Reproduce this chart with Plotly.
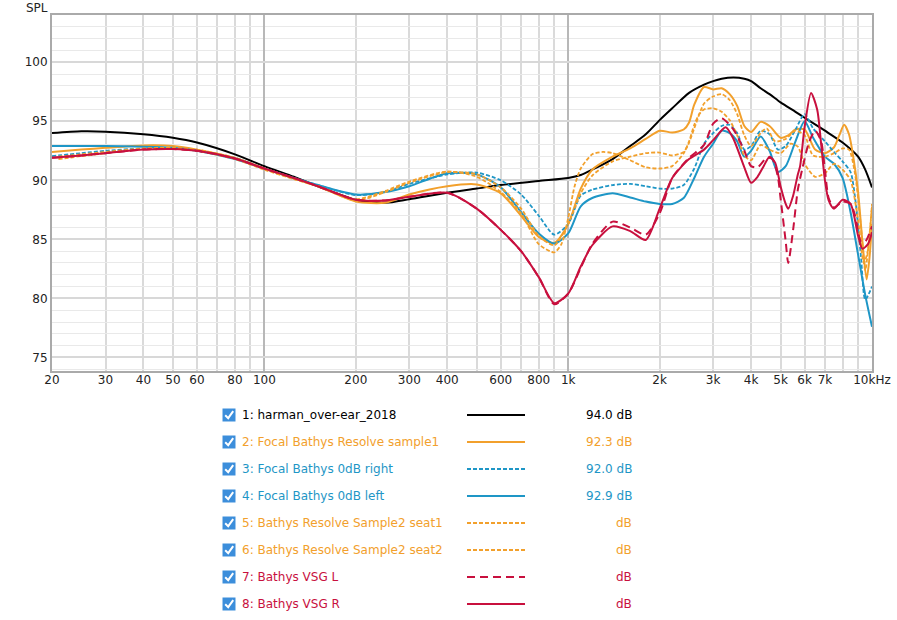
import math
import plotly.graph_objects as go

# ---------------- data (frequency in Hz, level in dB SPL) ----------------
harman_f = [20, 25, 30, 40, 50, 60, 80, 100, 125, 150, 200, 250, 300, 400, 500, 600, 800, 1000, 1100, 1200,
            1400, 1600, 1800, 2000, 2200, 2500, 2800, 3000, 3200, 3500, 3800, 4000, 4300, 4600, 5000, 5600,
            6000, 7000, 8000, 9000, 9500, 10000]
harman_db = [94.0, 94.15, 94.12, 93.9, 93.6, 93.2, 92.2, 91.2, 90.3, 89.5, 88.35, 88.1, 88.4, 88.95, 89.3, 89.6,
             89.95, 90.2, 90.45, 90.9, 91.8, 92.9, 93.9, 95.1, 96.1, 97.4, 98.1, 98.4, 98.6, 98.7, 98.6, 98.4,
             97.8, 97.3, 96.6, 95.8, 95.3, 94.2, 93.2, 92.0, 90.9, 89.4]

s1_f = [20, 25, 30, 40, 50, 60, 80, 100, 125, 150, 200, 250, 300, 400, 500, 600, 700, 800, 900, 1000, 1100,
        1200, 1400, 1600, 1800, 2000, 2200, 2400, 2500, 2600, 2800, 3000, 3200, 3400, 3600, 3800, 4000, 4300,
        4600, 5000, 5300, 5600, 6000, 6500, 7000, 7500, 7800, 8100, 8400, 8700, 9000, 9300, 9600, 9800, 10000]
s1_db = [92.4, 92.6, 92.75, 92.95, 92.9, 92.6, 91.9, 91.0, 90.15, 89.5, 88.2, 88.1, 88.8, 89.5, 89.65, 88.9,
         87.0, 85.2, 84.7, 86.3, 89.3, 90.9, 92.0, 92.7, 93.5, 94.2, 94.05, 94.3, 94.9, 96.4, 97.9, 97.7, 97.8,
         97.3, 96.3, 94.6, 94.1, 94.95, 94.6, 93.6, 93.8, 94.3, 94.3, 92.6, 92.3, 92.8, 93.8, 94.7, 93.9, 91.8,
         89.0, 84.8, 81.6, 83.3, 86.3]

r0_f = [20, 25, 30, 40, 50, 60, 80, 100, 125, 150, 200, 250, 300, 400, 500, 600, 700, 800, 900, 1000, 1100,
        1200, 1400, 1600, 1800, 2000, 2200, 2400, 2600, 2800, 3000, 3200, 3400, 3600, 3800, 4000, 4300, 4600,
        4900, 5200, 5600, 6000, 6400, 7000, 7500, 8000, 8500, 8800, 9200, 9500, 10000]
r0_db = [92.05, 92.3, 92.5, 92.7, 92.7, 92.5, 91.9, 91.0, 90.2, 89.6, 88.75, 89.0, 89.7, 90.5, 90.65, 90.0,
         88.8, 87.0, 85.4, 86.3, 88.7, 89.2, 89.6, 89.7, 89.5, 89.3, 89.3, 89.6, 91.0, 93.1, 94.0, 94.6, 94.7,
         94.0, 92.6, 92.9, 94.2, 93.9, 92.6, 92.9, 94.3, 95.6, 94.4, 93.3, 92.4, 91.6, 90.7, 88.5, 83.5, 79.9,
         81.0]

l0_f = [20, 30, 40, 50, 60, 80, 100, 125, 150, 200, 250, 300, 400, 500, 600, 700, 800, 900, 1000, 1100, 1200,
        1400, 1600, 1800, 2000, 2200, 2400, 2600, 2800, 3000, 3200, 3400, 3600, 3800, 4000, 4300, 4600, 4900,
        5200, 5600, 6000, 6400, 7000, 7500, 8000, 8500, 9000, 9500, 10000]
l0_db = [92.9, 92.9, 92.85, 92.75, 92.5, 91.8, 91.0, 90.2, 89.6, 88.8, 89.0, 89.5, 90.6, 90.5, 89.4, 87.3,
         85.5, 84.65, 85.5, 87.8, 88.5, 88.9, 88.55, 88.2, 88.0, 88.0, 88.5, 90.2, 92.0, 93.1, 94.2, 94.0, 93.3,
         92.0, 92.5, 93.7, 92.5, 90.7, 91.2, 93.3, 95.0, 93.6, 92.0, 91.4, 90.2, 87.3, 83.7, 80.3, 77.6]

seat1_f = [21, 25, 30, 40, 50, 60, 80, 100, 125, 150, 200, 250, 300, 400, 500, 600, 700, 800, 900, 950, 1000,
           1050, 1100, 1200, 1300, 1400, 1600, 1800, 2000, 2200, 2400, 2500, 2600, 2700, 2800, 3000, 3200, 3400,
           3600, 3800, 4000, 4300, 4600, 5000, 5400, 5700, 6000, 6500, 7000, 7500, 8000, 8500, 9000, 9400, 9700,
           10000]
seat1_db = [91.8, 92.05, 92.3, 92.65, 92.7, 92.5, 91.8, 90.9, 90.1, 89.5, 88.4, 89.1, 89.9, 90.75, 90.3, 89.0,
            87.2, 84.6, 83.9, 84.6, 86.8, 89.5, 91.0, 92.2, 92.4, 92.3, 91.7, 91.1, 91.0, 91.2, 92.3, 93.3, 94.7,
            95.6, 96.0, 96.1, 95.8, 95.1, 93.8, 92.1, 91.7, 93.0, 92.6, 92.3, 93.1, 92.85, 91.4, 90.3, 90.6, 91.4,
            90.9, 90.0, 86.6, 83.0, 84.1, 88.0]

seat2_f = [21, 25, 30, 40, 50, 60, 80, 100, 125, 150, 200, 250, 300, 400, 500, 600, 700, 800, 900, 1000, 1100,
           1200, 1400, 1600, 1800, 2000, 2200, 2400, 2500, 2600, 2800, 3000, 3200, 3400, 3600, 3800, 4000, 4300,
           4500, 4800, 5200, 5600, 6000, 6400, 7000, 7500, 8000, 8400, 8800, 9200, 9500, 10000]
seat2_db = [92.0, 92.2, 92.4, 92.7, 92.75, 92.6, 91.9, 91.0, 90.15, 89.5, 88.3, 89.0, 89.8, 90.7, 90.5, 89.4,
            87.6, 85.3, 84.5, 86.3, 88.9, 90.4, 91.6, 92.0, 92.3, 92.35, 92.1, 92.4, 93.2, 94.4, 96.5, 97.1,
            97.3, 96.8, 95.6, 93.8, 92.9, 94.0, 94.4, 93.3, 93.5, 94.2, 93.8, 92.1, 92.0, 92.3, 92.7, 92.6, 90.5,
            86.0, 82.4, 87.8]

vsgl_f = [20, 25, 30, 40, 50, 60, 80, 100, 125, 150, 200, 250, 300, 400, 500, 600, 700, 800, 900, 1000, 1100,
          1200, 1400, 1600, 1800, 2000, 2200, 2500, 2800, 3000, 3200, 3500, 3800, 4000, 4200, 4500, 4700, 4900,
          5000, 5200, 5300, 5500, 5700, 5900, 6200, 6500, 6800, 7000, 7200, 7500, 8000, 8500, 8800, 9200, 9500,
          10000]
vsgl_db = [91.9, 92.1, 92.3, 92.6, 92.65, 92.5, 91.85, 91.0, 90.2, 89.5, 88.35, 88.3, 88.6, 88.95, 87.6, 85.8,
           84.0, 81.8, 79.5, 80.4, 82.6, 84.6, 86.5, 86.0, 85.4, 87.2, 90.2, 91.9, 93.0, 94.8, 95.25, 94.3, 92.5,
           91.2, 91.1, 91.9, 91.8, 90.3, 88.5, 84.8, 83.0, 85.8, 89.2, 91.0, 93.2, 94.2, 93.3, 90.9, 88.5, 87.7,
           88.2, 88.0, 87.0, 84.8, 84.8, 86.1]

vsgr_f = [20, 25, 30, 40, 50, 60, 80, 100, 125, 150, 200, 250, 300, 400, 500, 600, 700, 800, 900, 1000, 1100,
          1200, 1400, 1600, 1800, 2000, 2200, 2500, 2800, 3000, 3300, 3500, 3800, 4000, 4200, 4400, 4600, 4800,
          5000, 5200, 5300, 5500, 5700, 5800, 6000, 6300, 6600, 6800, 7000, 7200, 7500, 8000, 8500, 9000, 9300,
          9700, 10000]
vsgr_db = [91.9, 92.1, 92.3, 92.6, 92.65, 92.5, 91.85, 91.0, 90.2, 89.5, 88.35, 88.3, 88.6, 88.95, 87.6, 85.8,
           84.0, 81.8, 79.6, 80.4, 82.7, 84.5, 86.1, 85.7, 84.95, 87.6, 90.2, 91.8, 92.6, 93.4, 94.5, 93.5, 91.1,
           89.8, 90.3, 91.2, 92.0, 91.5, 89.5, 88.0, 87.6, 88.7, 90.5, 91.2, 94.5, 97.4, 96.0, 93.1, 90.0, 88.3,
           87.6, 88.35, 88.0, 85.3, 84.2, 84.6, 85.6]

names = ["1: harman_over-ear_2018", "2: Focal Bathys Resolve sample1", "3: Focal Bathys 0dB right",
         "4: Focal Bathys 0dB left", "5: Bathys Resolve Sample2 seat1", "6: Bathys Resolve Sample2 seat2",
         "7: Bathys VSG L", "8: Bathys VSG R"]
levels = ["94.0 dB", "92.3 dB", "92.0 dB", "92.9 dB", "dB", "dB", "dB", "dB"]

xtick_vals = [20, 30, 40, 50, 60, 80, 100, 200, 300, 400, 600, 800, 1000, 2000, 3000, 4000, 5000, 6000, 7000, 10000]
xtick_text = ["20", "30", "40", "50", "60", "80", "100", "200", "300", "400", "600", "800", "1k", "2k", "3k",
              "4k", "5k", "6k", "7k", "10kHz"]
xgrid_minor = [20, 30, 40, 50, 60, 70, 80, 90, 200, 300, 400, 500, 600, 700, 800, 900,
               2000, 3000, 4000, 5000, 6000, 7000, 8000, 9000]
ytick_vals = [75, 80, 85, 90, 95, 100]

# ---------------- styling ----------------
BLACK = "#000000"
ORANGE = "#F2A02C"
BLUE = "#1E96C6"
RED = "#C8103E"
SHORT = "4px,2px"
LONG = "8px,5px"

W, H = 897, 620
L, R, T, B = 52, 25, 15, 249
PW = W - L - R
PH = H - T - B


def pxx(x):
    return (x - L) / PW


def pxy(y):
    return (H - B - y) / PH


series = [
    (harman_f, harman_db, BLACK, "solid", 2.0),
    (s1_f, s1_db, ORANGE, "solid", 2.0),
    (r0_f, r0_db, BLUE, SHORT, 1.8),
    (l0_f, l0_db, BLUE, "solid", 2.0),
    (seat1_f, seat1_db, ORANGE, SHORT, 1.8),
    (seat2_f, seat2_db, ORANGE, SHORT, 1.8),
    (vsgl_f, vsgl_db, RED, LONG, 2.0),
    (vsgr_f, vsgr_db, RED, "solid", 2.0),
]

fig = go.Figure()
for f, db, c, d, w in series:
    fig.add_trace(go.Scatter(x=f, y=db, mode="lines",
                             line=dict(color=c, width=w, dash=d, shape="spline", smoothing=0.7),
                             hoverinfo="skip", showlegend=False))
# carrier for the label axis
fig.add_trace(go.Scatter(x=[20, 10000], y=[None, None], xaxis="x2", yaxis="y", mode="lines",
                         showlegend=False, hoverinfo="skip"))

x_range = [math.log10(20), math.log10(10000)]
FONT = "DejaVu Sans"
TICKFONT = dict(family=FONT, size=12, color="#222222")

fig.update_layout(
    width=W, height=H,
    margin=dict(l=L, r=R, t=T, b=B, autoexpand=False),
    plot_bgcolor="white", paper_bgcolor="white",
    showlegend=False,
    font=dict(family=FONT, size=12, color="#222222"),
    xaxis=dict(type="log", range=x_range, tickmode="array", tickvals=[100, 1000], automargin=False,
               showticklabels=False, ticks="", showgrid=True, gridcolor="#b8b8b8", gridwidth=2,
               zeroline=False, showline=True, mirror=True, linecolor="#aaaaaa", linewidth=2,
               minor=dict(tickmode="array", tickvals=xgrid_minor, showgrid=True,
                          gridcolor="#dadada", gridwidth=2, ticks="")),
    xaxis2=dict(type="log", range=x_range, overlaying="x", side="bottom", anchor="y", automargin=False,
                tickmode="array", tickvals=xtick_vals, ticktext=xtick_text,
                showgrid=False, zeroline=False, showline=False, ticks="", tickfont=TICKFONT),
    yaxis=dict(range=[73.85, 104.0], tickmode="array", tickvals=ytick_vals, ticks="", automargin=False,
               showgrid=True, gridcolor="#d8d8d8", gridwidth=2, zeroline=False,
               showline=True, mirror=True, linecolor="#aaaaaa", linewidth=2, tickfont=TICKFONT,
               minor=dict(dtick=1, tick0=0, showgrid=True, gridcolor="#e9e9e9", gridwidth=1)),
)

annotations = [dict(text="SPL", x=pxx(37), y=pxy(8), xref="paper", yref="paper",
                    showarrow=False, xanchor="center", yanchor="middle",
                    font=dict(family=FONT, size=12, color="#222222"))]
shapes = []
text_colors = [BLACK, ORANGE, BLUE, BLUE, ORANGE, ORANGE, RED, RED]
for i, (nm, lv) in enumerate(zip(names, levels)):
    yc = 415 + 27 * i
    c = series[i][2]
    d = series[i][3]
    w = series[i][4]
    # checkbox
    shapes.append(dict(type="rect", xref="paper", yref="paper",
                       x0=pxx(222.5), x1=pxx(235.5), y0=pxy(yc + 6.5), y1=pxy(yc - 6.5),
                       fillcolor="#3C8EDB", line=dict(width=0), layer="above"))
    shapes.append(dict(type="path", xref="paper", yref="paper",
                       path="M {} {} L {} {} L {} {}".format(pxx(225.2), pxy(yc + 0.2), pxx(228.2), pxy(yc + 3.2),
                                                          pxx(233.2), pxy(yc - 3.8)),
                       line=dict(color="white", width=2), layer="above"))
    # line sample
    shapes.append(dict(type="line", xref="paper", yref="paper",
                       x0=pxx(467), x1=pxx(525), y0=pxy(yc), y1=pxy(yc),
                       line=dict(color=c, width=w, dash=d), layer="above"))
    annotations.append(dict(text=nm, x=pxx(240), y=pxy(yc), xref="paper", yref="paper",
                            showarrow=False, xanchor="left", yanchor="middle",
                            font=dict(family=FONT, size=12, color=text_colors[i])))
    annotations.append(dict(text=lv, x=pxx(634), y=pxy(yc), xref="paper", yref="paper",
                            showarrow=False, xanchor="right", yanchor="middle",
                            font=dict(family=FONT, size=12, color=text_colors[i])))

fig.update_layout(annotations=annotations, shapes=shapes)
# the page's default 8px body margin would shift the figure; remove it
fig.write_html("out.html", config={"displayModeBar": False, "staticPlot": True},
               post_script="document.body.style.margin='0';document.body.style.overflow='hidden';")
